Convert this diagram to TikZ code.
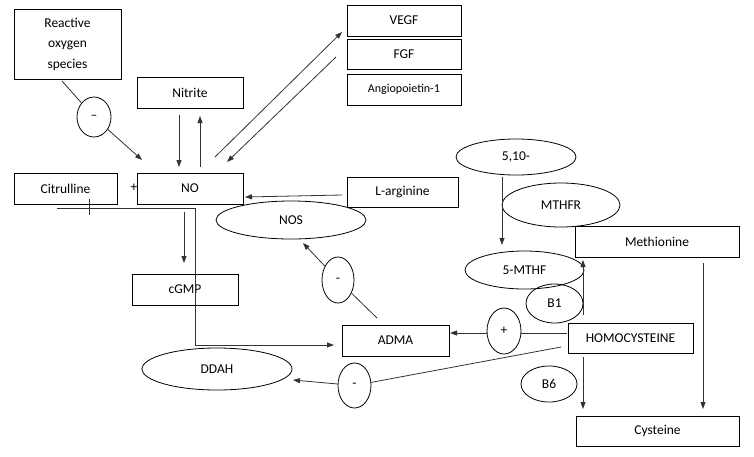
\documentclass[tikz,border=0pt]{standalone}
\usepackage{fontspec}
\setmainfont{Carlito}
\usetikzlibrary{shapes.geometric,arrows.meta}
\begin{document}
\begin{tikzpicture}[x=1pt,y=-1pt,
  every node/.style={font=\fontsize{13.5}{16}\selectfont, inner sep=0pt},
  box/.style={draw, line width=0.9pt, rectangle},
  oval/.style={draw, line width=0.8pt, ellipse},
  conn/.style={line width=0.8pt, draw=black!80},
  arr/.style={conn, -{Triangle[length=7pt,width=5pt]}}]
\useasboundingbox (0,0) rectangle (754,456);
% boxes
\node[box, minimum width=107pt, minimum height=70pt, align=center, font=\fontsize{13.5}{20.5}\selectfont] (ros) at (67.5,44) {Reactive\\oxygen\\species};
\node[box, minimum width=106pt, minimum height=31pt] (nitrite) at (190,92.5) {Nitrite};
\node[box, minimum width=106pt, minimum height=31pt] (no) at (190,188.5) {NO};
\node[box, minimum width=103pt, minimum height=31pt] (cit) at (65.5,188.5) {Citrulline};
\node[box, minimum width=114pt, minimum height=31pt] (vegf) at (404,20.5) {VEGF};
\node[box, minimum width=114pt, minimum height=30pt] (fgf) at (404,54.5) {FGF};
\node[box, minimum width=114pt, minimum height=31pt, font=\fontsize{12}{14}\selectfont] (ang) at (404,89.5) {Angiopoietin-1};
\node[box, minimum width=111pt, minimum height=30pt] (larg) at (402.5,192) {L-arginine};
\node[box, minimum width=106pt, minimum height=31pt] (cgmp) at (185,289.5) {cGMP};
\node[box, minimum width=107pt, minimum height=31pt] (adma) at (395.5,340.5) {ADMA};
\node[box, minimum width=125pt, minimum height=30pt] (homo) at (630.5,338) {HOMOCYSTEINE};
\node[box, minimum width=163pt, minimum height=30pt] (cys) at (657.5,431) {Cysteine};
\node[box, minimum width=164pt, minimum height=31pt] (meth) at (657,241.5) {Methionine};
% ellipses
\node[oval, minimum width=150pt, minimum height=38pt] (nos) at (291,220) {NOS};
\node[oval, minimum width=119pt, minimum height=38pt] (mthf) at (524.5,270) {5-MTHF};
\node[oval, minimum width=57pt, minimum height=39pt] (b1) at (554.5,303.5) {B1};
\node[oval, minimum width=120pt, minimum height=36pt] (five) at (516,157) {5,10-};
\node[oval, minimum width=118pt, minimum height=44pt] (mthfr) at (561,205) {MTHFR};
\node[oval, minimum width=150pt, minimum height=42pt] (ddah) at (217,369) {DDAH};
\node[oval, minimum width=56pt, minimum height=36pt] (b6) at (549,384) {B6};
\node[oval, minimum width=34pt, minimum height=40pt] (mros) at (94,117) {\raisebox{-2pt}{–}};
\node[oval, minimum width=32pt, minimum height=46pt] (mnos) at (338,280) {\raisebox{-3pt}{-}};
\node[oval, minimum width=34pt, minimum height=46pt] (plus) at (504,331) {+};
\node[oval, minimum width=33pt, minimum height=45pt] (mddah) at (354.5,385.5) {\raisebox{-4pt}{-}};
\node (plussign) at (134,188) {+};
% coordinates
\coordinate (r1) at (62,81);
\coordinate (r2) at (142,160);
\coordinate (n1) at (179,115); \coordinate (n2) at (179,167);
\coordinate (n3) at (200,167); \coordinate (n4) at (200,116);
\coordinate (v1) at (215,157); \coordinate (v2) at (342,32);
\coordinate (v3) at (336,57);  \coordinate (v4) at (227,162);
\coordinate (l1) at (342,195); \coordinate (l2) at (245,197);
\coordinate (c1) at (57,208); \coordinate (c2) at (195,208);
\coordinate (c3) at (195,345); \coordinate (c4) at (334,345);
\coordinate (t1) at (89,199); \coordinate (t2) at (89,215);
\coordinate (g1) at (184,212); \coordinate (g2) at (184,263);
\coordinate (a1) at (377,318); \coordinate (a2) at (303,243);
\coordinate (h1) at (567,333); \coordinate (h2) at (450,333);
\coordinate (d1) at (561,347); \coordinate (d2) at (293,380);
\coordinate (y1) at (583,357); \coordinate (y2) at (583,409);
\coordinate (m1) at (703,263); \coordinate (m2) at (703,409);
\coordinate (k1) at (583,315); \coordinate (k2) at (583,260);
\coordinate (f1) at (502,177); \coordinate (f2) at (502,245);
% connectors
\draw[conn] (r1) -- (mros);
\draw[arr] (mros) -- (r2);
\draw[arr] (n1) -- (n2);
\draw[arr] (n3) -- (n4);
\draw[arr] (v1) -- (v2);
\draw[arr] (v3) -- (v4);
\draw[arr] (l1) -- (l2);
\draw[arr] (c1) -- (c2) -- (c3) -- (c4);
\draw[conn] (t1) -- (t2);
\draw[arr] (g1) -- (g2);
\draw[conn] (a1) -- (mnos);
\draw[arr] (mnos) -- (a2);
\draw[conn] (h1) -- (h1 -| plus.east);
\draw[arr] (h2 -| plus.west) -- (h2);
\draw[conn] (d1) -- (mddah);
\draw[arr] (mddah) -- (d2);
\draw[arr] (y1) -- (y2);
\draw[arr] (m1) -- (m2);
\draw[arr] (k1) -- (k2);
\draw[arr] (f1) -- (f2);
\end{tikzpicture}
\end{document}
